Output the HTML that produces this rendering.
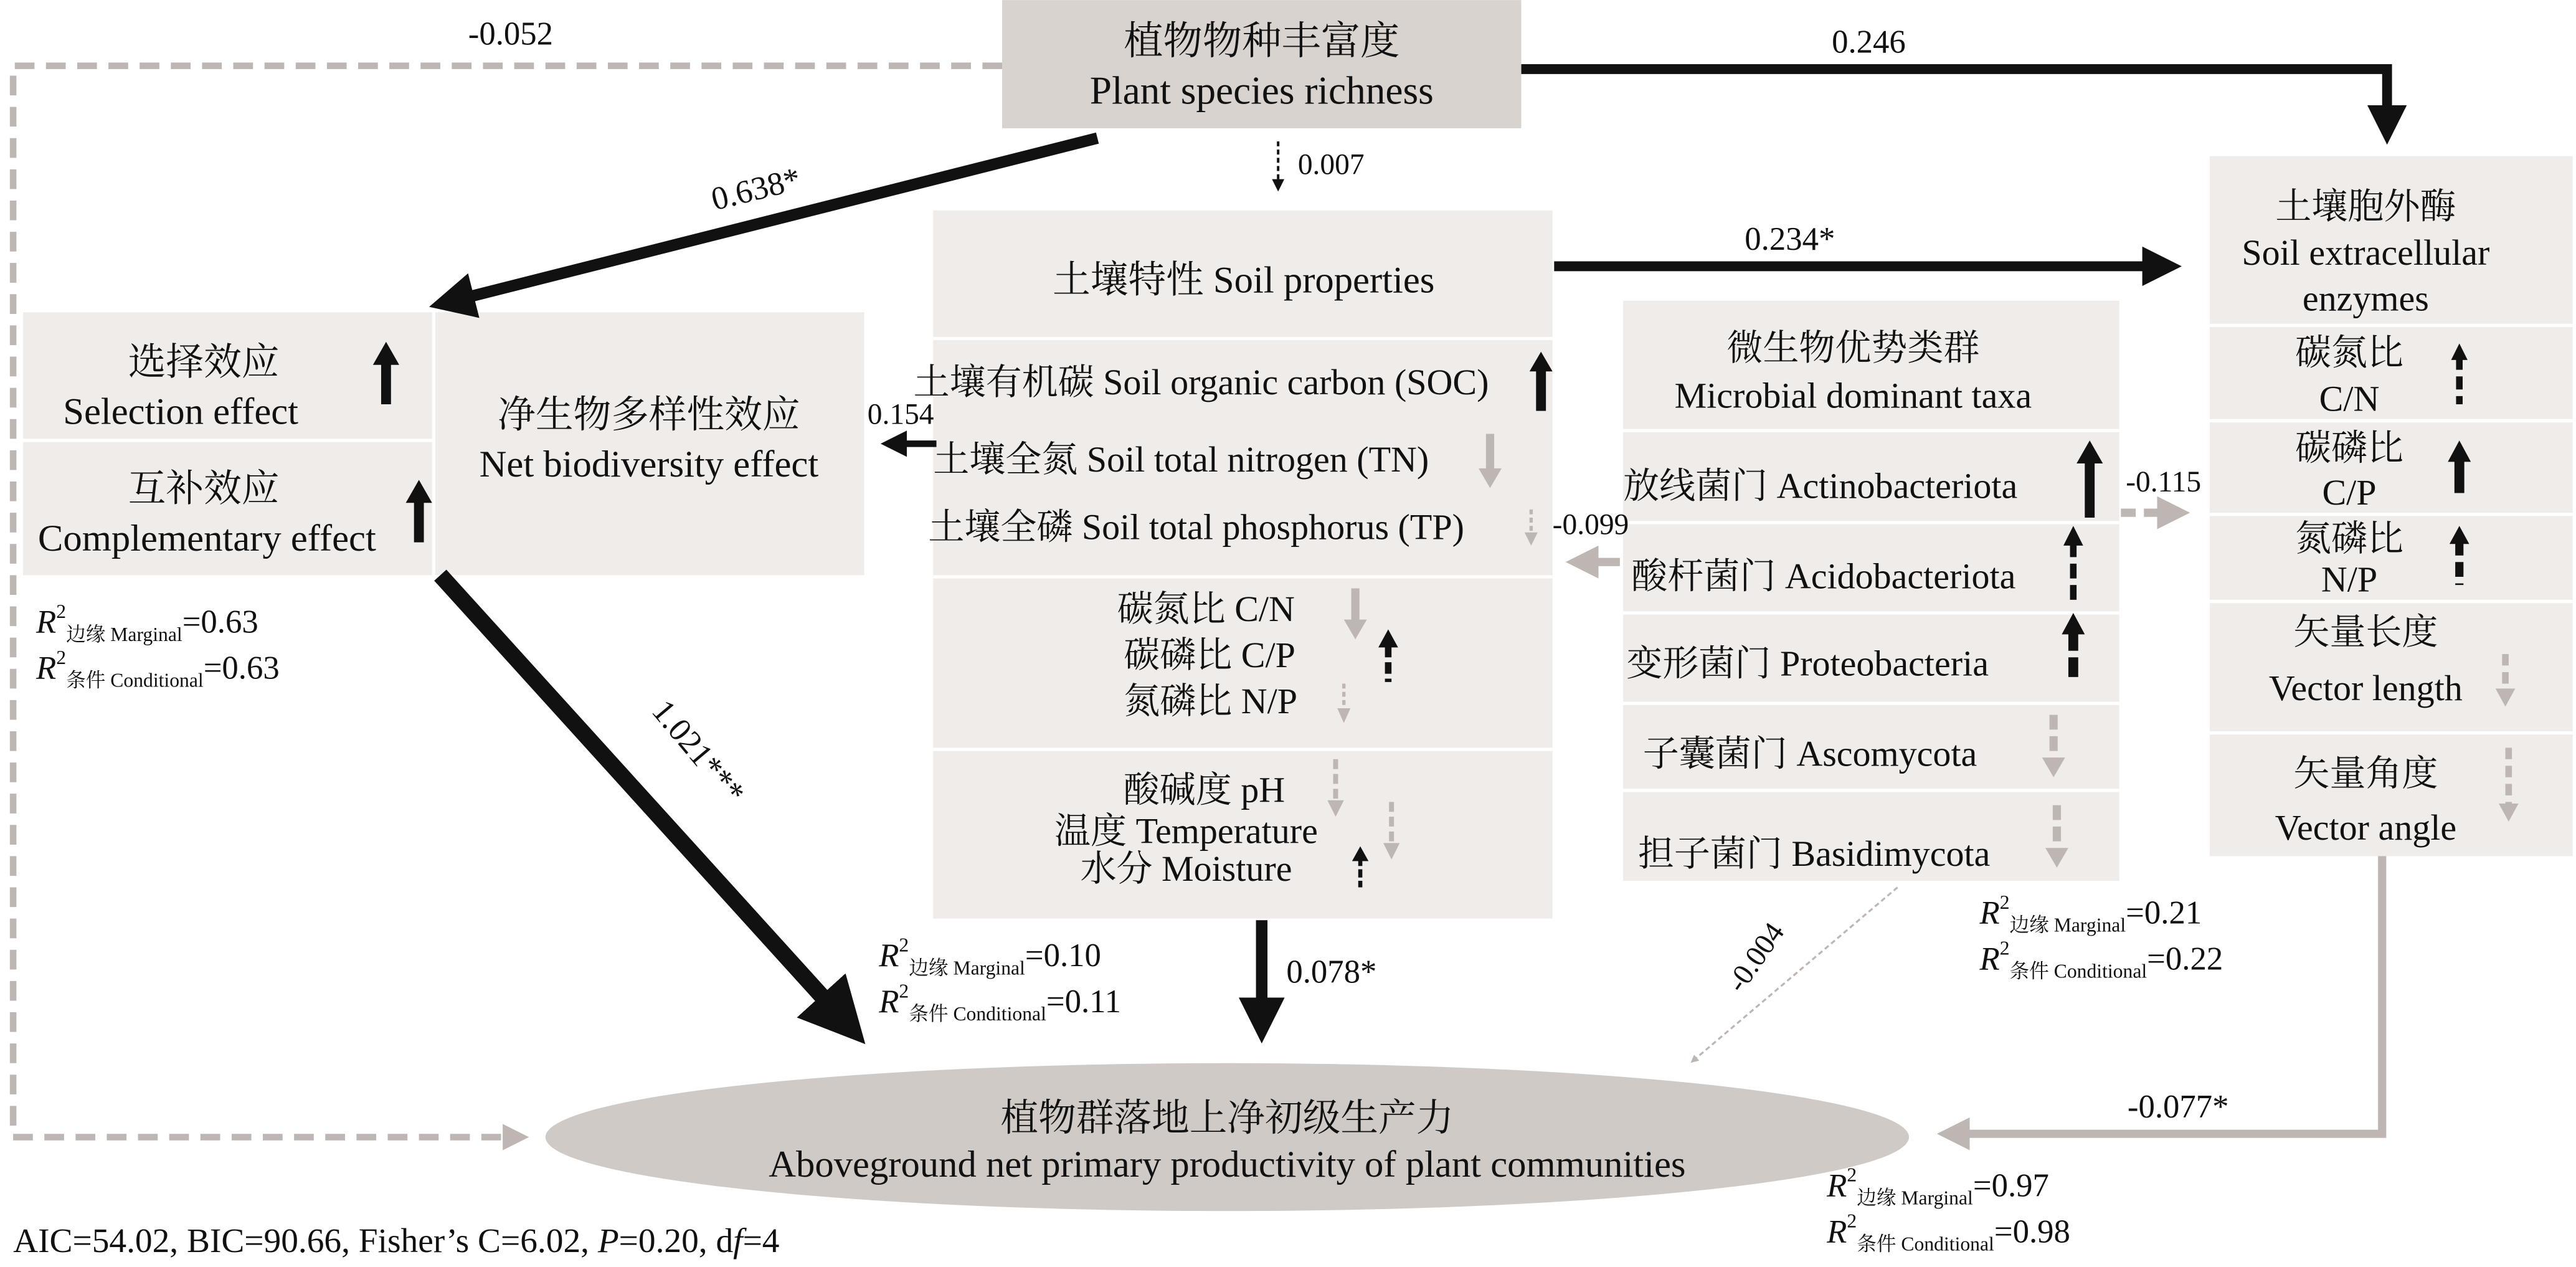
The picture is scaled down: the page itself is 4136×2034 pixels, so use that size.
<!DOCTYPE html>
<html><head><meta charset="utf-8">
<style>
html,body{margin:0;padding:0;background:#fff;}
svg{display:block;}
svg, svg text, svg tspan{font-family:"Liberation Serif","Noto Serif CJK SC","Noto Sans CJK SC",serif !important;}
text{fill:#111;}
</style></head>
<body>
<svg width="4136" height="2034" viewBox="0 0 1568 771" xmlns="http://www.w3.org/2000/svg" font-family="Liberation Serif, Noto Serif CJK SC, serif">
<defs>
<marker id="ab" markerWidth="4" markerHeight="4" refX="3" refY="2" orient="auto"><path d="M0,0 L4,2 L0,4 Z" fill="#111"/></marker>
<marker id="ag" markerWidth="4" markerHeight="4" refX="3" refY="2" orient="auto"><path d="M0,0 L4,2 L0,4 Z" fill="#bdb6b3"/></marker>
<marker id="abs" markerWidth="5" markerHeight="5" refX="4" refY="2.5" orient="auto"><path d="M0,0 L5,2.5 L0,5 Z" fill="#111"/></marker>
</defs>
<rect width="1568" height="771" fill="#fff"/>

<rect x="610" y="0" width="316" height="78" fill="#d9d3d0"/>
<text x="768" y="33" font-size="24" text-anchor="middle">植物物种丰富度</text>
<text x="768" y="63" font-size="24" text-anchor="middle">Plant species richness</text>

<rect x="14" y="190" width="249" height="160" fill="#efecea"/>
<line x1="14" y1="268" x2="263" y2="268" stroke="#fff" stroke-width="2"/>
<rect x="265" y="190" width="261" height="160" fill="#efecea"/>
<text x="124" y="228" font-size="23" text-anchor="middle">选择效应</text>
<text x="110" y="258" font-size="23" text-anchor="middle">Selection effect</text>
<text x="124" y="305" font-size="23" text-anchor="middle">互补效应</text>
<text x="126" y="335" font-size="23" text-anchor="middle">Complementary effect</text>
<text x="395" y="260" font-size="23" text-anchor="middle">净生物多样性效应</text>
<text x="395" y="290" font-size="23" text-anchor="middle">Net biodiversity effect</text>

<rect x="568" y="128" width="377" height="431" fill="#efecea"/>
<line x1="568" y1="206" x2="945" y2="206" stroke="#fff" stroke-width="2"/>
<line x1="568" y1="351" x2="945" y2="351" stroke="#fff" stroke-width="2"/>
<line x1="568" y1="456" x2="945" y2="456" stroke="#fff" stroke-width="2"/>
<text x="757" y="178" font-size="23" text-anchor="middle">土壤特性 Soil properties</text>
<text x="556" y="240" font-size="22">土壤有机碳 Soil organic carbon (SOC)</text>
<text x="568" y="287" font-size="22">土壤全氮 Soil total nitrogen (TN)</text>
<text x="565" y="328" font-size="22">土壤全磷 Soil total phosphorus (TP)</text>
<text x="680" y="378" font-size="22">碳氮比 C/N</text>
<text x="684" y="406" font-size="22">碳磷比 C/P</text>
<text x="684" y="434" font-size="22">氮磷比 N/P</text>
<text x="733" y="488" font-size="22" text-anchor="middle">酸碱度 pH</text>
<text x="722" y="513" font-size="22" text-anchor="middle">温度 Temperature</text>
<text x="722" y="536" font-size="22" text-anchor="middle">水分 Moisture</text>

<rect x="988" y="183" width="302" height="353" fill="#efecea"/>
<line x1="988" y1="262" x2="1290" y2="262" stroke="#fff" stroke-width="2"/>
<line x1="988" y1="318" x2="1290" y2="318" stroke="#fff" stroke-width="2"/>
<line x1="988" y1="373" x2="1290" y2="373" stroke="#fff" stroke-width="2"/>
<line x1="988" y1="428" x2="1290" y2="428" stroke="#fff" stroke-width="2"/>
<line x1="988" y1="481" x2="1290" y2="481" stroke="#fff" stroke-width="2"/>
<text x="1128" y="219" font-size="22" text-anchor="middle">微生物优势类群</text>
<text x="1128" y="248" font-size="22" text-anchor="middle">Microbial dominant taxa</text>
<text x="988" y="303" font-size="22">放线菌门 Actinobacteriota</text>
<text x="993" y="358" font-size="22">酸杆菌门 Acidobacteriota</text>
<text x="990" y="411" font-size="22">变形菌门 Proteobacteria</text>
<text x="1000" y="466" font-size="22">子囊菌门 Ascomycota</text>
<text x="997" y="527" font-size="22">担子菌门 Basidimycota</text>

<rect x="1345" y="95" width="221" height="426" fill="#efecea"/>
<line x1="1345" y1="198" x2="1566" y2="198" stroke="#fff" stroke-width="2"/>
<line x1="1345" y1="256" x2="1566" y2="256" stroke="#fff" stroke-width="2"/>
<line x1="1345" y1="313" x2="1566" y2="313" stroke="#fff" stroke-width="2"/>
<line x1="1345" y1="366" x2="1566" y2="366" stroke="#fff" stroke-width="2"/>
<line x1="1345" y1="446" x2="1566" y2="446" stroke="#fff" stroke-width="2"/>
<text x="1440" y="133" font-size="22" text-anchor="middle">土壤胞外酶</text>
<text x="1440" y="161" font-size="22" text-anchor="middle">Soil extracellular</text>
<text x="1440" y="189" font-size="22" text-anchor="middle">enzymes</text>
<text x="1430" y="222" font-size="22" text-anchor="middle">碳氮比</text>
<text x="1430" y="250" font-size="22" text-anchor="middle">C/N</text>
<text x="1430" y="280" font-size="22" text-anchor="middle">碳磷比</text>
<text x="1430" y="307" font-size="22" text-anchor="middle">C/P</text>
<text x="1430" y="335" font-size="22" text-anchor="middle">氮磷比</text>
<text x="1430" y="360" font-size="22" text-anchor="middle">N/P</text>
<text x="1440" y="392" font-size="22" text-anchor="middle">矢量长度</text>
<text x="1440" y="426" font-size="22" text-anchor="middle">Vector length</text>
<text x="1440" y="478" font-size="22" text-anchor="middle">矢量角度</text>
<text x="1440" y="511" font-size="22" text-anchor="middle">Vector angle</text>

<ellipse cx="747" cy="692" rx="415" ry="45" fill="#d0cac7"/>
<text x="747" y="688" font-size="23" text-anchor="middle">植物群落地上净初级生产力</text>
<text x="747" y="716" font-size="23" text-anchor="middle">Aboveground net primary productivity of plant communities</text>

<polyline points="610,40 8,40 8,692 318,692" fill="none" stroke="#bdb6b3" stroke-width="4" stroke-dasharray="12,7" marker-end="url(#ag)"/>
<text x="285" y="27" font-size="20">-0.052</text>
<polyline points="926,42 1453,42 1453,82" fill="none" stroke="#111" stroke-width="6" marker-end="url(#ab)"/>
<text x="1115" y="32" font-size="20">0.246</text>
<line x1="668" y1="84" x2="268" y2="185" stroke="#111" stroke-width="7" marker-end="url(#ab)"/>
<text x="435" y="128" font-size="20" transform="rotate(-14 435 128)">0.638*</text>
<line x1="778" y1="86" x2="778" y2="115" stroke="#111" stroke-width="1.5" stroke-dasharray="3,2" marker-end="url(#abs)"/>
<text x="790" y="106" font-size="18">0.007</text>
<line x1="946" y1="162" x2="1322" y2="162" stroke="#111" stroke-width="6" marker-end="url(#ab)"/>
<text x="1062" y="152" font-size="20">0.234*</text>
<line x1="570" y1="270" x2="540" y2="270" stroke="#111" stroke-width="4" marker-end="url(#ab)"/>
<text x="528" y="258" font-size="18">0.154</text>
<line x1="986" y1="342" x2="958" y2="342" stroke="#bdb6b3" stroke-width="5" marker-end="url(#ag)"/>
<text x="945" y="325" font-size="18">-0.099</text>
<line x1="1291" y1="312" x2="1328" y2="312" stroke="#bdb6b3" stroke-width="5" stroke-dasharray="9,5" marker-end="url(#ag)"/>
<text x="1294" y="299" font-size="18">-0.115</text>
<line x1="268" y1="350" x2="520" y2="628" stroke="#111" stroke-width="10" marker-end="url(#ab)"/>
<text x="396" y="433" font-size="20" transform="rotate(50 396 433)">1.021***</text>
<line x1="768" y1="560" x2="768" y2="628" stroke="#111" stroke-width="7" marker-end="url(#ab)"/>
<text x="783" y="598" font-size="20">0.078*</text>
<line x1="1155" y1="540" x2="1030" y2="646" stroke="#bdb6b3" stroke-width="1.2" stroke-dasharray="3,2" marker-end="url(#ag)"/>
<text x="1060" y="605" font-size="18" transform="rotate(-55 1060 605)">-0.004</text>
<polyline points="1450,521 1450,690 1184,690" fill="none" stroke="#bdb6b3" stroke-width="5" marker-end="url(#ag)"/>
<text x="1295" y="680" font-size="20">-0.077*</text>

<g fill="#111" stroke="#111">
<path d="M235,208 l-8,14 h16z" stroke="none"/><line x1="235" y1="220" x2="235" y2="246" stroke-width="6"/>
<path d="M255,292 l-8,14 h16z" stroke="none"/><line x1="255" y1="304" x2="255" y2="330" stroke-width="6"/>
<path d="M938,214 l-7,12 h14z" stroke="none"/><line x1="938" y1="224" x2="938" y2="250" stroke-width="6"/>
<path d="M1272,268 l-8,14 h16z" stroke="none"/><line x1="1272" y1="280" x2="1272" y2="315" stroke-width="6"/>
<path d="M1497,268 l-7,13 h14z" stroke="none"/><line x1="1497" y1="279" x2="1497" y2="300" stroke-width="6"/>
<path d="M845,383 l-6,11 h12z" stroke="none"/><line x1="845" y1="393" x2="845" y2="415" stroke-width="4" stroke-dasharray="7,3"/>
<path d="M828,515 l-5,9 h10z" stroke="none"/><line x1="828" y1="522" x2="828" y2="540" stroke-width="2.5" stroke-dasharray="5,2"/>
<path d="M1262,320 l-6,12 h12z" stroke="none"/><line x1="1262" y1="330" x2="1262" y2="366" stroke-width="4" stroke-dasharray="9,4"/>
<path d="M1262,373 l-7,13 h14z" stroke="none"/><line x1="1262" y1="384" x2="1262" y2="416" stroke-width="6" stroke-dasharray="12,4"/>
<path d="M1497,209 l-5,10 h10z" stroke="none"/><line x1="1497" y1="217" x2="1497" y2="246" stroke-width="4" stroke-dasharray="8,4"/>
<path d="M1497,320 l-6,11 h12z" stroke="none"/><line x1="1497" y1="329" x2="1497" y2="356" stroke-width="5" stroke-dasharray="9,4"/>
</g>
<g fill="#bdb6b3" stroke="#bdb6b3">
<line x1="907" y1="264" x2="907" y2="286" stroke-width="5"/><path d="M907,297 l-7,-12 h14z" stroke="none"/>
<line x1="932" y1="310" x2="932" y2="324" stroke-width="2" stroke-dasharray="3,2"/><path d="M932,332 l-4,-8 h8z" stroke="none"/>
<line x1="825" y1="358" x2="825" y2="378" stroke-width="5"/><path d="M825,389 l-7,-12 h14z" stroke="none"/>
<line x1="818" y1="416" x2="818" y2="431" stroke-width="2" stroke-dasharray="3,2"/><path d="M818,440 l-4,-9 h8z" stroke="none"/>
<line x1="813" y1="462" x2="813" y2="487" stroke-width="3" stroke-dasharray="6,3"/><path d="M813,497 l-5,-10 h10z" stroke="none"/>
<line x1="847" y1="488" x2="847" y2="513" stroke-width="3" stroke-dasharray="6,3"/><path d="M847,523 l-5,-10 h10z" stroke="none"/>
<line x1="1250" y1="435" x2="1250" y2="461" stroke-width="5" stroke-dasharray="9,4"/><path d="M1250,473 l-7,-12 h14z" stroke="none"/>
<line x1="1252" y1="490" x2="1252" y2="516" stroke-width="5" stroke-dasharray="9,4"/><path d="M1252,528 l-7,-12 h14z" stroke="none"/>
<line x1="1525" y1="398" x2="1525" y2="420" stroke-width="4" stroke-dasharray="7,4"/><path d="M1525,430 l-6,-11 h12z" stroke="none"/>
<line x1="1527" y1="455" x2="1527" y2="490" stroke-width="4" stroke-dasharray="7,4"/><path d="M1527,500 l-6,-11 h12z" stroke="none"/>
</g>

<g font-size="20">
<text x="22" y="385"><tspan font-style="italic">R</tspan><tspan font-size="12" dy="-9">2</tspan><tspan font-size="12" dy="14">边缘 Marginal</tspan><tspan dy="-5">=0.63</tspan></text>
<text x="22" y="413"><tspan font-style="italic">R</tspan><tspan font-size="12" dy="-9">2</tspan><tspan font-size="12" dy="14">条件 Conditional</tspan><tspan dy="-5">=0.63</tspan></text>
<text x="535" y="588"><tspan font-style="italic">R</tspan><tspan font-size="12" dy="-9">2</tspan><tspan font-size="12" dy="14">边缘 Marginal</tspan><tspan dy="-5">=0.10</tspan></text>
<text x="535" y="616"><tspan font-style="italic">R</tspan><tspan font-size="12" dy="-9">2</tspan><tspan font-size="12" dy="14">条件 Conditional</tspan><tspan dy="-5">=0.11</tspan></text>
<text x="1205" y="562"><tspan font-style="italic">R</tspan><tspan font-size="12" dy="-9">2</tspan><tspan font-size="12" dy="14">边缘 Marginal</tspan><tspan dy="-5">=0.21</tspan></text>
<text x="1205" y="590"><tspan font-style="italic">R</tspan><tspan font-size="12" dy="-9">2</tspan><tspan font-size="12" dy="14">条件 Conditional</tspan><tspan dy="-5">=0.22</tspan></text>
<text x="1112" y="728"><tspan font-style="italic">R</tspan><tspan font-size="12" dy="-9">2</tspan><tspan font-size="12" dy="14">边缘 Marginal</tspan><tspan dy="-5">=0.97</tspan></text>
<text x="1112" y="756"><tspan font-style="italic">R</tspan><tspan font-size="12" dy="-9">2</tspan><tspan font-size="12" dy="14">条件 Conditional</tspan><tspan dy="-5">=0.98</tspan></text>
</g>
<text x="8" y="762" font-size="21">AIC=54.02, BIC=90.66, Fisher’s C=6.02, <tspan font-style="italic">P</tspan>=0.20, d<tspan font-style="italic">f</tspan>=4</text>
</svg>
</body></html>
